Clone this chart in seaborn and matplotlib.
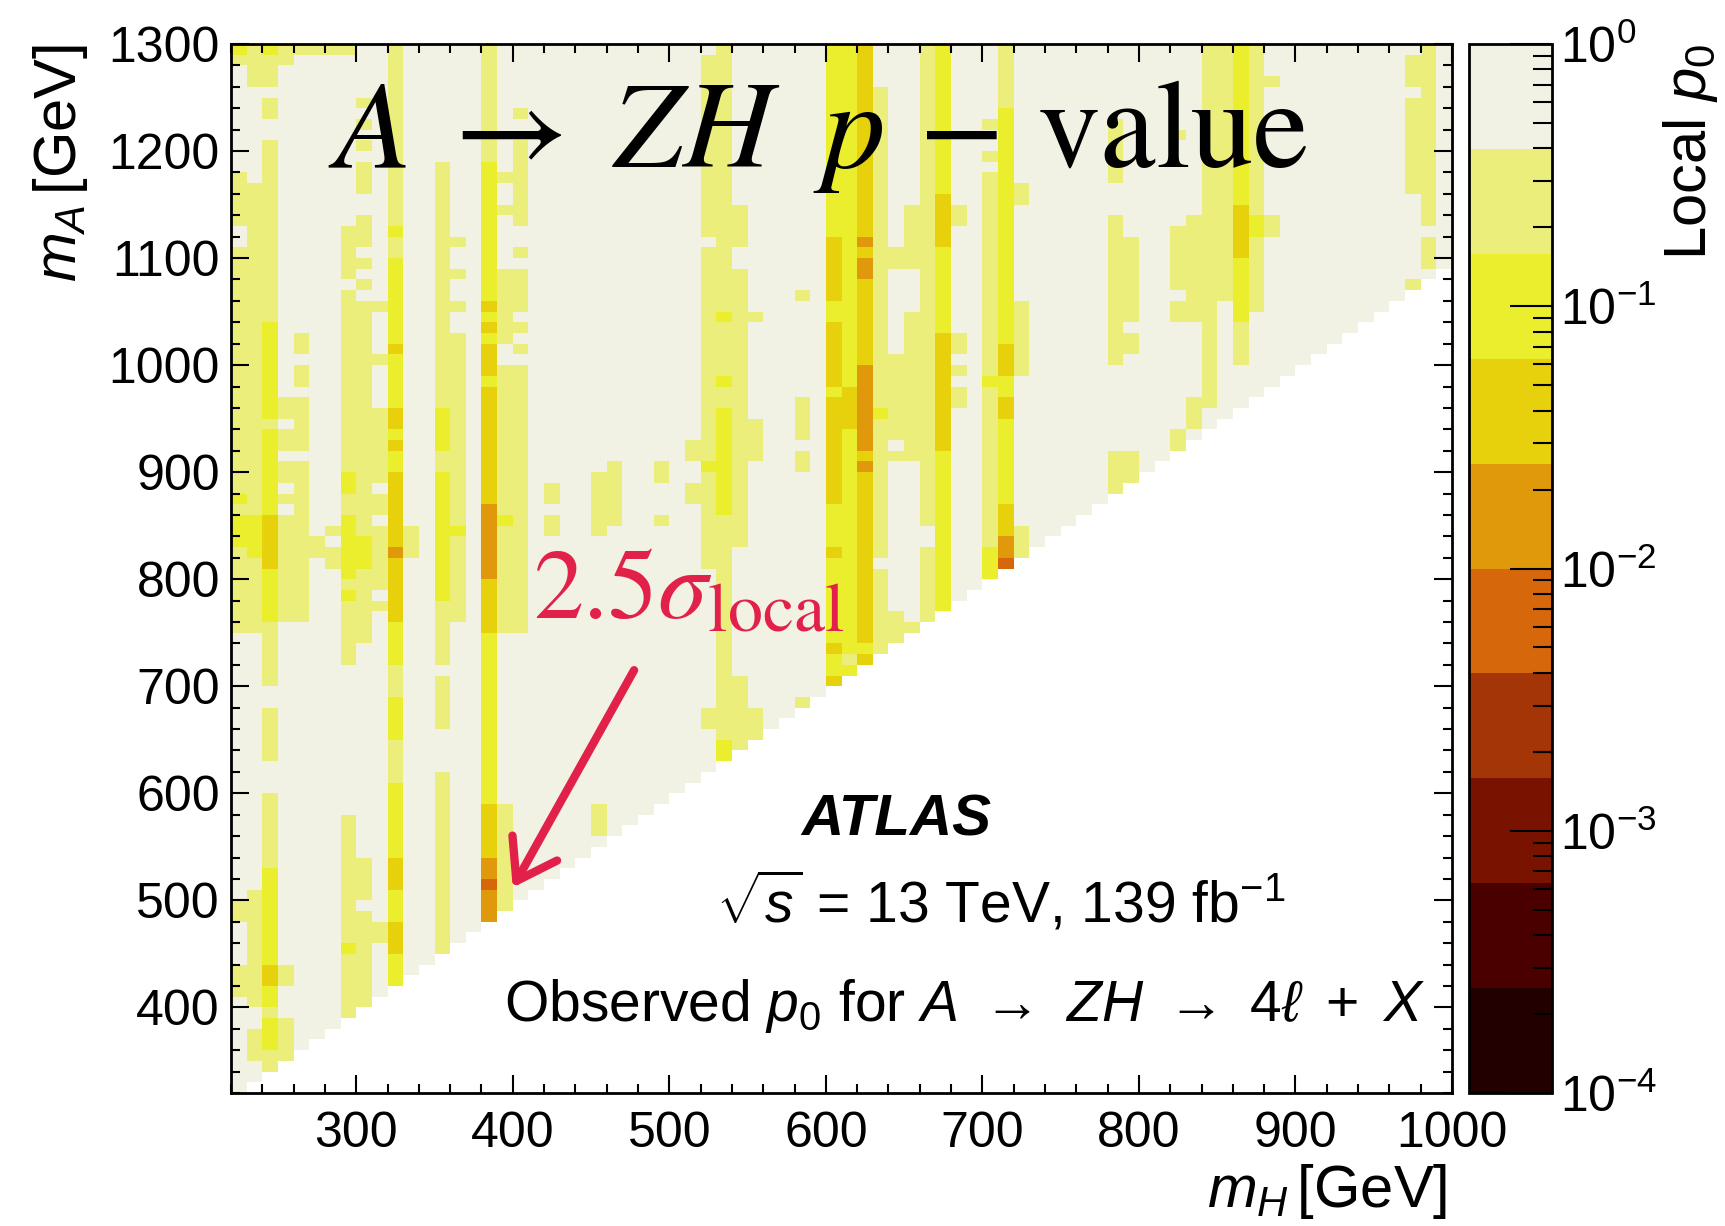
import numpy as np
import pandas as pd
import matplotlib
matplotlib.use("Agg")
import matplotlib.pyplot as plt
import seaborn as sns
from matplotlib.colors import ListedColormap, LogNorm
from matplotlib.ticker import LogLocator, NullFormatter

sns.set_style("white")
plt.rcParams["font.family"] = ["Liberation Sans", "DejaVu Sans"]
plt.rcParams["mathtext.fontset"] = "custom"
plt.rcParams["mathtext.rm"] = "Liberation Sans"
plt.rcParams["mathtext.it"] = "Liberation Sans:italic"
plt.rcParams["mathtext.bf"] = "Liberation Sans:bold"
plt.rcParams["mathtext.sf"] = "Liberation Sans"
plt.rcParams["axes.axisbelow"] = False
for key in ["text.color", "axes.labelcolor", "xtick.color", "ytick.color",
            "axes.edgecolor"]:
    plt.rcParams[key] = "black"

# ---------------------------------------------------------------- grid
m_H_bins = np.arange(220, 1000, 10)          # lower bin edges [GeV]
m_A_bins = np.arange(1290, 310, -10)         # lower bin edges, top row first
Z_OFFSET = 100                               # m_A >= m_H + 100 GeV is scanned

# representative local p0 per colour band
P_NONE = 0.70
P_LIGHT = 0.25
P_YELLOW = 0.10
P_GOLD = 0.040
P_ORANGE = 0.016

# runs of cells: (m_H, m_A from, m_A to)
light_runs = [
    (220, 1280, 1290), (220, 1130, 1180), (220, 750, 1110), (220, 480, 500), (220, 410, 440),
    (230, 1260, 1300), (230, 750, 1170), (230, 400, 510), (230, 350, 380),
    (240, 1260, 1290), (240, 1230, 1250), (240, 700, 1210), (240, 630, 680), (240, 340, 600),
    (250, 1280, 1300), (250, 950, 970), (250, 920, 940), (250, 890, 910), (250, 870, 880),
    (250, 760, 860), (250, 420, 440), (250, 350, 390),
    (260, 1290, 1300), (260, 1010, 1030), (260, 980, 1000), (260, 920, 970), (260, 760, 910),
    (270, 1290, 1300), (270, 820, 840),
    (280, 1290, 1300), (280, 840, 850), (280, 810, 830),
    (290, 1290, 1300), (290, 1080, 1130), (290, 720, 1070), (290, 390, 580),
    (300, 1240, 1250), (300, 1220, 1230), (300, 1200, 1210), (300, 1160, 1190), (300, 1110, 1140),
    (300, 1090, 1100), (300, 1070, 1080), (300, 740, 1060), (300, 500, 540), (300, 400, 490),
    (310, 1050, 1060), (310, 1000, 1010), (310, 890, 960), (310, 860, 880), (310, 790, 850),
    (310, 770, 780), (310, 460, 480),
    (320, 1130, 1300), (320, 1100, 1120), (320, 690, 720), (320, 610, 650),
    (330, 820, 850),
    (350, 720, 1190), (350, 660, 710), (350, 450, 620),
    (360, 1110, 1120), (360, 1080, 1090), (360, 1050, 1060), (360, 760, 1030),
    (380, 1190, 1300),
    (390, 1170, 1180), (390, 1140, 1150), (390, 1020, 1090), (390, 750, 1000), (390, 490, 590),
    (400, 1230, 1240), (400, 1130, 1210), (400, 1100, 1110), (400, 1050, 1090), (400, 1030, 1040),
    (400, 1010, 1020), (400, 750, 1000),
    (420, 870, 890), (420, 840, 860),
    (450, 840, 900), (450, 560, 590),
    (460, 850, 910),
    (490, 890, 910), (490, 850, 860),
    (510, 910, 930), (510, 870, 890),
    (520, 1120, 1290), (520, 810, 1110), (520, 660, 680),
    (530, 640, 1300),
    (540, 1110, 1150), (540, 830, 1090), (540, 640, 710),
    (550, 1040, 1050), (550, 910, 950), (550, 650, 680),
    (580, 1060, 1070), (580, 930, 970), (580, 900, 920), (580, 680, 690),
    (610, 720, 730),
    (630, 820, 1260), (630, 730, 810),
    (640, 1090, 1110), (640, 930, 1010), (640, 910, 920), (640, 740, 770),
    (650, 1090, 1150), (650, 910, 1050), (650, 750, 760),
    (660, 850, 1300), (660, 760, 830),
    (680, 1130, 1150), (680, 1010, 1030), (680, 990, 1000), (680, 960, 980),
    (700, 1220, 1230), (700, 1190, 1200), (700, 830, 1180),
    (710, 1240, 1300),
    (720, 1150, 1170), (720, 990, 1060), (720, 820, 850),
    (780, 1170, 1230), (780, 1000, 1140), (780, 880, 920),
    (790, 1040, 1120), (790, 1010, 1030), (790, 890, 920),
    (820, 1210, 1220), (820, 1070, 1130), (820, 1040, 1060), (820, 920, 940),
    (830, 1040, 1140), (830, 940, 970),
    (840, 960, 1300),
    (850, 1060, 1300),
    (860, 1000, 1040),
    (870, 1050, 1300),
    (880, 1260, 1270), (880, 1120, 1140),
    (970, 1260, 1290), (970, 1160, 1250), (970, 1070, 1080),
    (980, 1130, 1300), (980, 1090, 1120),
]

yellow_runs = [
    (220, 1290, 1300), (220, 870, 880), (220, 830, 860),
    (230, 820, 860),
    (240, 1290, 1300), (240, 950, 1040), (240, 760, 940), (240, 400, 530), (240, 360, 390),
    (290, 880, 900), (290, 800, 860), (290, 780, 790), (290, 450, 460),
    (300, 810, 840),
    (320, 1120, 1130), (320, 720, 1100), (320, 650, 690), (320, 540, 610), (320, 420, 510),
    (350, 920, 960), (350, 780, 900),
    (360, 840, 850),
    (380, 480, 1190),
    (390, 850, 860),
    (520, 900, 910),
    (530, 1040, 1050), (530, 980, 990), (530, 860, 960), (530, 630, 650),
    (600, 700, 1300),
    (610, 730, 1300), (610, 710, 720),
    (620, 730, 740),
    (630, 950, 960),
    (670, 770, 1300),
    (700, 980, 990), (700, 800, 830),
    (710, 810, 1240),
    (860, 1040, 1300),
    (870, 1120, 1140),
]

gold_runs = [
    (240, 810, 860), (240, 420, 440),
    (320, 1010, 1020), (320, 940, 960), (320, 920, 930), (320, 760, 900),
    (320, 510, 540), (320, 450, 480),
    (380, 1050, 1060), (380, 1030, 1040), (380, 990, 1020), (380, 970, 980),
    (380, 750, 970), (380, 480, 590),
    (600, 1060, 1120), (600, 980, 1040), (600, 870, 970), (600, 820, 830),
    (600, 730, 740), (600, 700, 710),
    (610, 940, 980),
    (620, 740, 1300), (620, 720, 730),
    (670, 1110, 1160), (670, 920, 1030),
    (710, 990, 1020), (710, 950, 970), (710, 840, 870),
    (860, 1100, 1150),
]

orange_runs = [
    (320, 820, 830),
    (380, 800, 870), (380, 480, 540),
    (620, 1110, 1120), (620, 1080, 1100), (620, 920, 1000), (620, 900, 910),
    (710, 820, 840),
]

# most significant single cells: (m_H, m_A, local p0)
peak_cells = [(380, 510, 0.0062), (710, 810, 0.0080)]

# ---------------------------------------------------------------- table
grid = pd.DataFrame(P_NONE, index=m_A_bins, columns=m_H_bins, dtype=float)
for runs, p in [(light_runs, P_LIGHT), (yellow_runs, P_YELLOW),
                (gold_runs, P_GOLD), (orange_runs, P_ORANGE)]:
    for h, lo, hi in runs:
        rows = (grid.index >= lo) & (grid.index < hi)
        grid.loc[rows, h] = p
for h, a, p in peak_cells:
    grid.loc[a, h] = p
inside = grid.index.values[:, None] >= grid.columns.values[None, :] + Z_OFFSET
grid = grid.where(inside)
grid.index.name = None
grid.columns.name = None

band_colors = ["#220000", "#4b0000", "#7a1200", "#a33506", "#d6670a",
               "#e0990a", "#e6d10c", "#ebee2c", "#ecee7c", "#f2f2e4"]
cmap = ListedColormap(band_colors)
norm = LogNorm(vmin=1e-4, vmax=1.0)

# ---------------------------------------------------------------- figure
W, H = 1725, 1226
fig = plt.figure(figsize=(W / 100, H / 100), dpi=100)


def fx(px):
    return px / W


def fy(py):
    return 1 - py / H


ax = fig.add_axes([fx(231), fy(1093), fx(1452) - fx(231), fy(44) - fy(1093)])
cax = fig.add_axes([fx(1469), fy(1093), fx(1552) - fx(1469), fy(44) - fy(1093)])

sns.heatmap(grid, ax=ax, cmap=cmap, norm=norm, cbar=False,
            xticklabels=False, yticklabels=False)
ax.set_facecolor("white")
ax.set_axisbelow(False)


def to_x(mh):
    return (mh - 220) / 10.0


def to_y(ma):
    return (1300 - ma) / 10.0


ax.set_xlim(0, to_x(1000))
ax.set_ylim(to_y(320), 0)

xmaj = list(range(300, 1001, 100))
ymaj = list(range(400, 1301, 100))
ax.set_xticks([to_x(v) for v in xmaj])
ax.set_xticklabels([str(v) for v in xmaj])
ax.set_xticks([to_x(v) for v in range(220, 1001, 20)], minor=True)
ax.set_yticks([to_y(v) for v in ymaj])
ax.set_yticklabels([str(v) for v in ymaj], rotation=0)
ax.set_yticks([to_y(v) for v in range(320, 1301, 20)], minor=True)
ax.tick_params(which="both", direction="in", top=True, right=True,
               bottom=True, left=True, width=1.5, color="black",
               labelcolor="black")
ax.tick_params(which="major", length=13, labelsize=36)
ax.tick_params(which="minor", length=6.5)
ax.tick_params(axis="x", which="major", pad=13)
ax.tick_params(axis="y", which="major", pad=8)
for s in ax.spines.values():
    s.set_visible(True)
    s.set_linewidth(2)
    s.set_color("black")

# colour scale
cb = fig.colorbar(ax.collections[0], cax=cax)
cb.outline.set_linewidth(2)
cb.outline.set_edgecolor("black")
cax.set_axisbelow(False)
cax.yaxis.set_major_locator(LogLocator(base=10))
cax.yaxis.set_minor_locator(LogLocator(base=10, subs=np.arange(2, 10)))
cax.yaxis.set_minor_formatter(NullFormatter())
cax.tick_params(which="both", direction="in", right=True, left=False,
                width=1.5, color="black", labelcolor="black")
cax.tick_params(which="major", length=30, labelsize=36, pad=6)
cax.tick_params(which="minor", length=14)

# axis titles
fig.text(fx(61), fy(44), r"$m_A\,$[GeV]", rotation=90, ha="center", va="top",
         fontsize=43)
fig.text(fx(1447), fy(1207), r"$m_H\,$[GeV]", ha="right", va="baseline",
         fontsize=43)
fig.text(fx(1690), fy(44), r"Local $p_0$", rotation=90, ha="center", va="top",
         fontsize=43)

# headline
fig.text(fx(328), fy(167), r"$A\;\rightarrow\;ZH\;\;p\,-\,\mathrm{value}$",
         ha="left", va="baseline", fontsize=90, math_fontfamily="stix")

# local significance of the most significant cell
crimson = "#e2214b"
fig.text(fx(533), fy(618), r"$\mathrm{2.5}\sigma_{\mathrm{local}}$",
         ha="left", va="baseline", fontsize=72, color=crimson,
         math_fontfamily="stix")
ax.annotate("", xy=(to_x(400), to_y(512)), xytext=(to_x(477.5), to_y(715)),
            arrowprops=dict(arrowstyle="->,head_length=0.59,head_width=0.4",
                            color=crimson, lw=6, mutation_scale=46,
                            shrinkA=0, shrinkB=0, capstyle="round",
                            joinstyle="round"))

# experiment labels
fig.text(fx(801), fy(836), "ATLAS", ha="left", va="baseline", fontsize=42,
         fontweight="bold", fontstyle="italic")
fig.text(fx(716), fy(923), r"$\sqrt{s}$ = 13 TeV, 139 fb$^{-1}$",
         ha="left", va="baseline", fontsize=41)
fig.text(fx(504), fy(1021),
         r"Observed $p_0$ for $A\ \rightarrow\ ZH\ \rightarrow\ 4\ell\ +\ X$",
         ha="left", va="baseline", fontsize=41)

fig.savefig("out.png", dpi=100)
